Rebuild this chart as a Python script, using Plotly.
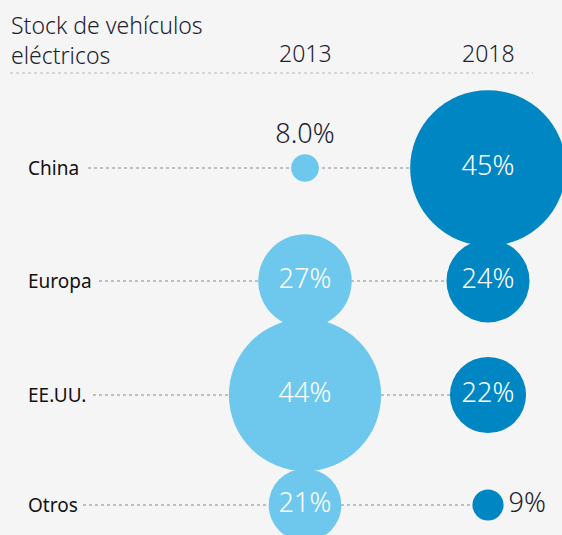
import plotly.graph_objects as go

regions = ["China", "Europa", "EE.UU.", "Otros"]
years = ["2013", "2018"]
share_2013 = [8.0, 27, 44, 21]
share_2018 = [45, 24, 22, 9]
labels_2013 = ["8.0%", "27%", "44%", "21%"]
labels_2018 = ["45%", "24%", "22%", "9%"]

BG = "#f5f5f5"
DARK = "#1d2230"
LIGHT_BLUE = "#6ec8ee"
DARK_BLUE = "#0086c3"
FONT = "Noto Sans"
PX_PER_PCT = 3.46  # bubble diameter grows linearly with the share

W, H = 562, 535
# pixel positions of the two columns and of the rows
col_px = [305, 488]
row_px = [168, 281, 395, 505]

x_unit = col_px[1] - col_px[0]
x_range = [-col_px[0] / x_unit, (W - col_px[0]) / x_unit]
y_range = [H, 0]  # y axis runs in pixels from the top

fig = go.Figure()

# dotted guide lines behind the bubbles
line_start_px = [88, 99, 93, 83]
for y, x0 in zip(row_px, line_start_px):
    fig.add_shape(type="line", xref="x", yref="y", layer="below",
                  x0=(x0 - col_px[0]) / x_unit, x1=1, y0=y, y1=y,
                  line=dict(color="#a9adb3", width=1.5, dash="dot"))

pos_2013 = ["top center" if v < 15 else "middle center" for v in share_2013]
pos_2018 = ["middle right" if v < 15 else "middle center" for v in share_2018]
col_2013 = [DARK if v < 15 else "white" for v in share_2013]
col_2018 = [DARK if v < 15 else "white" for v in share_2018]

fig.add_trace(go.Scatter(
    x=[0] * len(regions), y=row_px, mode="markers+text",
    marker=dict(size=[v * PX_PER_PCT for v in share_2013], sizemode="diameter",
                color=LIGHT_BLUE, opacity=1, line=dict(width=0)),
    text=labels_2013, textposition=pos_2013,
    textfont=dict(family=FONT, size=27, weight=300, color=col_2013),
    hoverinfo="skip", showlegend=False,
))
fig.add_trace(go.Scatter(
    x=[1] * len(regions), y=row_px, mode="markers+text",
    marker=dict(size=[v * PX_PER_PCT for v in share_2018], sizemode="diameter",
                color=DARK_BLUE, opacity=1, line=dict(width=0)),
    text=labels_2018, textposition=pos_2018,
    textfont=dict(family=FONT, size=27, weight=300, color=col_2018),
    hoverinfo="skip", showlegend=False,
))

# row labels
for y, name in zip(row_px, regions):
    fig.add_annotation(x=26 / W, xref="paper", y=y, yref="y", text=name,
                       xanchor="left", yanchor="middle", showarrow=False,
                       font=dict(family=FONT, size=19, color="#111111"))

# header
fig.add_annotation(x=9 / W, y=1 - 7 / H, xref="paper", yref="paper",
                   text="Stock de vehículos<br>eléctricos", align="left",
                   xanchor="left", yanchor="top", showarrow=False,
                   font=dict(family=FONT, size=23, weight=300, color=DARK))
for j, yr in enumerate(years):
    fig.add_annotation(x=j, xref="x", y=1 - 53 / H, yref="paper", text=yr,
                       xanchor="center", yanchor="middle", showarrow=False,
                       font=dict(family=FONT, size=23, weight=300, color=DARK))
fig.add_shape(type="line", xref="paper", yref="paper",
              x0=10 / W, x1=533 / W, y0=1 - 73 / H, y1=1 - 73 / H,
              line=dict(color="#b5b8bd", width=1, dash="dot"))

fig.update_layout(
    width=W, height=H, margin=dict(l=0, r=0, t=0, b=0),
    paper_bgcolor=BG, plot_bgcolor=BG,
    font=dict(family=FONT, color=DARK),
)
fig.update_xaxes(range=x_range, visible=False, fixedrange=True)
fig.update_yaxes(range=y_range, visible=False, fixedrange=True)

fig.write_html("out.html", config={"displayModeBar": False},
               post_script="document.body.style.margin='0';document.body.style.overflow='hidden';")
